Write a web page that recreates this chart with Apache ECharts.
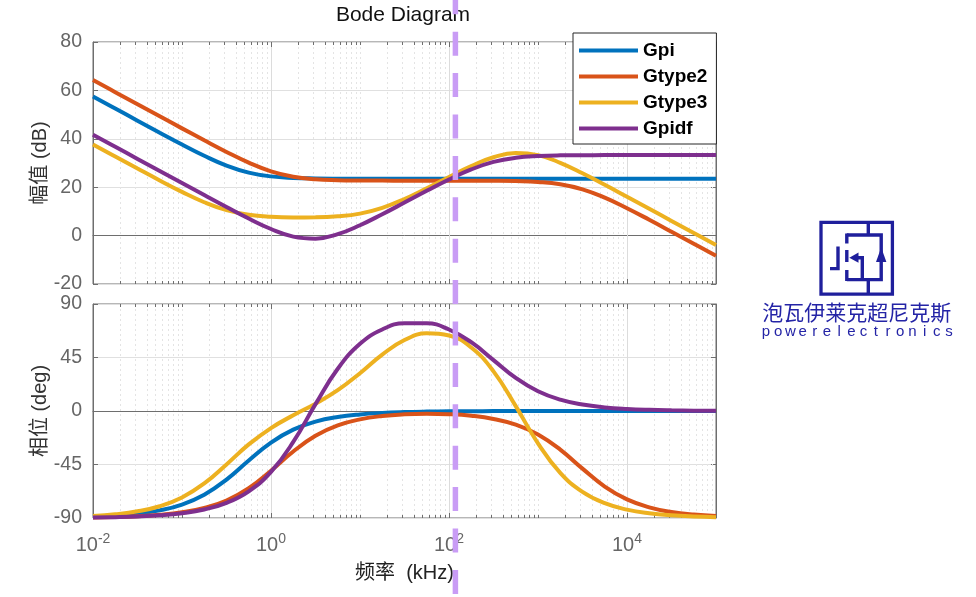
<!DOCTYPE html>
<html><head><meta charset="utf-8">
<script src="https://cdn.jsdelivr.net/npm/echarts@6/dist/echarts.min.js"></script>
<style>html,body{margin:0;padding:0;background:#fff}#c{width:976px;height:597px}</style>
</head><body><div id="c"></div>
<script>
// ---- data ----
const freqKHz = [0.01, 0.01778, 0.03162, 0.05623, 0.1, 0.1778, 0.3162, 0.5623, 1, 1.778, 3.162, 5.623, 10, 17.78, 31.62, 56.23, 100, 177.8, 316.2, 562.3, 1000, 1778, 3162, 5623, 10000, 17783, 31623, 56234, 100000];
const seriesNames = ['Gpi', 'Gtype2', 'Gtype3', 'Gpidf'];
const magGpi    = [57.48, 52.49, 47.50, 42.53, 37.65, 33.00, 28.94, 26.03, 24.47, 23.83, 23.61, 23.53, 23.51, 23.50, 23.50, 23.50, 23.50, 23.50, 23.50, 23.50, 23.50, 23.50, 23.50, 23.50, 23.50, 23.50, 23.50, 23.50, 23.50];
const magGtype2 = [64.28, 59.28, 54.29, 49.29, 44.31, 39.38, 34.58, 30.15, 26.57, 24.33, 23.28, 22.89, 22.76, 22.72, 22.70, 22.70, 22.69, 22.68, 22.65, 22.53, 22.18, 21.23, 19.13, 15.68, 11.32, 6.54, 1.61, -3.37, -8.36];
const magGtype3 = [37.67, 32.68, 27.71, 22.79, 18.05, 13.78, 10.50, 8.59, 7.77, 7.52, 7.56, 7.96, 9.09, 11.47, 15.13, 19.57, 24.24, 28.72, 32.38, 34.17, 33.25, 30.08, 25.75, 20.97, 16.04, 11.07, 6.07, 1.07, -3.92];
const magGpidf  = [41.70, 36.70, 31.70, 26.70, 21.71, 16.73, 11.81, 7.04, 2.72, -0.41, -1.26, 0.59, 4.29, 8.83, 13.65, 18.50, 23.19, 27.35, 30.44, 32.17, 32.90, 33.16, 33.21, 33.27, 33.28, 33.29, 33.29, 33.29, 33.29];
const phaseGpi    = [-88.85, -87.96, -86.38, -83.58, -78.69, -70.43, -57.69, -41.64, -26.57, -15.71, -8.99, -5.08, -2.86, -1.61, -0.91, -0.51, -0.29, -0.16, -0.09, -0.05, -0.03, -0.02, -0.01, 0, 0, 0, 0, 0, 0];
const phaseGtype2 = [-89.52, -89.15, -88.49, -87.32, -85.24, -81.57, -75.24, -64.89, -50.19, -34.04, -20.84, -12.16, -7.04, -4.22, -2.82, -2.37, -2.74, -4.02, -6.66, -11.48, -19.72, -32.46, -48.50, -63.54, -74.36, -81.05, -84.94, -87.15, -88.40];
const phaseGtype3 = [-88.22, -86.85, -84.40, -80.10, -72.73, -60.95, -44.93, -28.10, -14.35, -3.60, 6.19, 17.48, 31.80, 47.44, 59.68, 65.31, 63.51, 53.39, 33.36, 4.12, -27.22, -52.02, -68.06, -77.56, -82.98, -86.04, -87.77, -88.75, -89.30];
const phaseGpidf  = [-89.60, -89.28, -88.72, -87.72, -85.95, -82.81, -77.25, -67.52, -51.27, -26.05, 5.75, 35.51, 56.52, 68.57, 73.83, 73.76, 68.55, 57.85, 42.84, 27.81, 16.59, 9.52, 5.39, 3.03, 1.71, 0.96, 0.54, 0.30, 0.17];
const xTickExponents = [-2, 0, 2, 4];
const magTicks = [-20, 0, 20, 40, 60, 80];
const phaseTicks = [-90, -45, 0, 45, 90];
const markerFreqKHz = 118;
const titleText = 'Bode Diagram';
const magLabel = '幅值 (dB)';
const phaseLabel = '相位 (deg)';
const freqLabel = '频率  (kHz)';
const logoCN = '泡瓦伊莱克超尼克斯';
const logoEN = 'powerelectronics';

// ---- styling ----
const FONT = "'Liberation Sans', Arial, 'Noto Sans CJK SC', sans-serif";
const colors = ['#0072BD', '#D95319', '#EDB120', '#7E2F8E'];
const axisGray = '#6e6e6e';
const tickGray = '#666';

const chart = echarts.init(document.getElementById('c'), null, {renderer: 'canvas'});
const pairs = vals => freqKHz.map((f, i) => [f, vals[i]]);

// log-axis grid lines (major at labelled decades, minor dotted elsewhere)
const gridFreqs = [];
for (let n = -2; n <= 4; n++) {
  for (let k = 1; k <= 9; k++) {
    const f = k * Math.pow(10, n);
    if (f <= 0.01) continue;
    gridFreqs.push([f, (k === 1 && xTickExponents.includes(n)) ? 1 : 0]);
  }
}
function gridRenderer(yMin, yMax) {
  return function (params, api) {
    const f = api.value(0);
    const major = api.value(1) === 1;
    const top = api.coord([f, yMax]);
    const bot = api.coord([f, yMin]);
    const x = Math.round(top[0]) + 0.5;
    const tl = major ? 5 : 3;
    const gl = {type: 'line', shape: {x1: x, y1: top[1], x2: x, y2: bot[1]},
      style: major ? {stroke: '#dcdcdc', lineWidth: 1} : {stroke: '#e4e4e4', lineWidth: 1, lineDash: [2, 3]}};
    return {type: 'group', children: [
      gl,
      {type: 'line', shape: {x1: x, y1: top[1], x2: x, y2: top[1] + tl}, style: {stroke: axisGray, lineWidth: 1}},
      {type: 'line', shape: {x1: x, y1: bot[1], x2: x, y2: bot[1] - tl}, style: {stroke: axisGray, lineWidth: 1}}
    ]};
  };
}

const magSets = [magGpi, magGtype2, magGtype3, magGpidf];
const phaseSets = [phaseGpi, phaseGtype2, phaseGtype3, phaseGpidf];
const lineSeries = [];
magSets.forEach((v, i) => lineSeries.push({type: 'line', name: seriesNames[i], xAxisIndex: 0, yAxisIndex: 0,
  data: pairs(v), symbol: 'none', showSymbol: false, smooth: 0.45, lineStyle: {width: 4, color: colors[i]}, itemStyle: {color: colors[i]}, z: 3}));
phaseSets.forEach((v, i) => lineSeries.push({type: 'line', name: seriesNames[i], xAxisIndex: 1, yAxisIndex: 2,
  data: pairs(v), symbol: 'none', showSymbol: false, smooth: 0.45, lineStyle: {width: 4, color: colors[i]}, itemStyle: {color: colors[i]}, z: 3}));

const yBase = (gi, ticks, name) => ({
  type: 'value', gridIndex: gi, min: ticks[0], max: ticks[ticks.length - 1], interval: ticks[1] - ticks[0],
  axisLine: {show: true, lineStyle: {color: axisGray, width: 1}},
  axisTick: {show: true, inside: true, length: 5, lineStyle: {color: axisGray}},
  axisLabel: {margin: 11, fontSize: 19.5, color: tickGray, fontFamily: FONT},
  splitLine: {show: true, lineStyle: {color: '#e0e0e0', width: 1}},
  name: name, nameLocation: 'middle', nameGap: 43, nameMoveOverlap: false,
  nameTextStyle: {fontSize: 20, color: '#333', fontFamily: FONT}
});
const yRight = (gi, ticks) => ({
  type: 'value', gridIndex: gi, position: 'right', min: ticks[0], max: ticks[ticks.length - 1], interval: ticks[1] - ticks[0],
  axisLine: {show: true, lineStyle: {color: axisGray, width: 1}},
  axisTick: {show: true, inside: true, length: 5, lineStyle: {color: axisGray}},
  axisLabel: {show: false}, splitLine: {show: false}
});

const option = {
  animation: false,
  backgroundColor: '#fff',
  grid: [
    {left: 93, top: 42, width: 623, height: 242, show: true, borderColor: axisGray, borderWidth: 1, backgroundColor: 'transparent', containLabel: false, outerBoundsMode: 'none'},
    {left: 93, top: 304, width: 623, height: 214, show: true, borderColor: axisGray, borderWidth: 1, backgroundColor: 'transparent', containLabel: false, outerBoundsMode: 'none'}
  ],
  legend: {
    data: seriesNames.map((n, i) => ({name: n, icon: 'rect', itemStyle: {color: colors[i]}})),
    orient: 'vertical', left: 573, top: 33,
    itemWidth: 59, itemHeight: 4, itemGap: 7, padding: [8, 9, 6, 6],
    backgroundColor: '#fff', borderColor: '#262626', borderWidth: 1, borderRadius: 0,
    textStyle: {fontSize: 19, fontWeight: 'bold', color: '#000', fontFamily: FONT},
    selectedMode: false
  },
  xAxis: [
    {type: 'log', logBase: 10, gridIndex: 0, min: 0.01, max: 100000,
      axisLine: {show: true, lineStyle: {color: axisGray}}, axisTick: {show: false}, axisLabel: {show: false}, splitLine: {show: false}},
    {type: 'log', logBase: 10, gridIndex: 1, min: 0.01, max: 100000,
      axisLine: {show: true, lineStyle: {color: axisGray}}, axisTick: {show: false}, splitLine: {show: false},
      axisLabel: {margin: 14, showMinLabel: true, showMaxLabel: true,
        formatter: v => { const e = Math.round(Math.log10(v)); return xTickExponents.includes(e) ? '{b|10}{s|' + e + '}' : ''; },
        rich: {b: {fontSize: 20, lineHeight: 26, color: tickGray, fontFamily: FONT},
               s: {fontSize: 14, lineHeight: 14, verticalAlign: 'top', color: tickGray, fontFamily: FONT}}},
      name: freqLabel, nameLocation: 'middle', nameGap: 45, nameMoveOverlap: false,
      nameTextStyle: {fontSize: 20, color: '#222', fontFamily: FONT}}
  ],
  yAxis: [yBase(0, magTicks, magLabel), yRight(0, magTicks), yBase(1, phaseTicks, phaseLabel), yRight(1, phaseTicks)],
  series: [
    {type: 'custom', name: 'grid0', xAxisIndex: 0, yAxisIndex: 0, data: gridFreqs, silent: true, z: 1,
      encode: {x: 0, y: 1}, renderItem: gridRenderer(magTicks[0], magTicks[magTicks.length - 1])},
    {type: 'custom', name: 'grid1', xAxisIndex: 1, yAxisIndex: 2, data: gridFreqs, silent: true, z: 1,
      encode: {x: 0, y: 1}, renderItem: gridRenderer(phaseTicks[0], phaseTicks[phaseTicks.length - 1])}
  ].concat(lineSeries)
};
chart.setOption(option);

// ---- overlay graphics: title, marker line, logo ----
const px = chart.convertToPixel({xAxisIndex: 0}, markerFreqKHz);
const logoColor = '#1f1f9c';
const ls = {stroke: logoColor, lineWidth: 3.4, fill: 'none'};
const graphics = [
  {type: 'text', z: 50, style: {text: titleText, x: 403, y: 15, align: 'center', verticalAlign: 'middle', font: "21px 'Liberation Sans', Arial, sans-serif", fill: '#111'}},
  {type: 'line', z: 100, silent: true, shape: {x1: px, y1: -9.7, x2: px, y2: 600}, style: {stroke: '#c99cf5', lineWidth: 5.5, lineDash: [24, 17.4]}},
  {type: 'rect', shape: {x: 821, y: 222.4, width: 71.4, height: 71.8}, style: {fill: 'none', stroke: logoColor, lineWidth: 3.3}},
  {type: 'polyline', shape: {points: [[846.8, 235], [881.2, 235], [881.2, 279.6], [846.8, 279.6]]}, style: ls},
  {type: 'line', shape: {x1: 868.3, y1: 223, x2: 868.3, y2: 235}, style: ls},
  {type: 'line', shape: {x1: 868.3, y1: 279.6, x2: 868.3, y2: 294}, style: ls},
  {type: 'line', shape: {x1: 846.8, y1: 233.5, x2: 846.8, y2: 243.5}, style: ls},
  {type: 'line', shape: {x1: 846.8, y1: 250, x2: 846.8, y2: 262}, style: ls},
  {type: 'line', shape: {x1: 846.8, y1: 270, x2: 846.8, y2: 281}, style: ls},
  {type: 'polyline', shape: {points: [[856, 257.7], [862.3, 257.7], [862.3, 279.6]]}, style: ls},
  {type: 'polygon', shape: {points: [[849.3, 257.7], [858.5, 252.6], [858.5, 262.8]]}, style: {fill: logoColor}},
  {type: 'polygon', shape: {points: [[881.2, 247.5], [876, 262], [886.4, 262]]}, style: {fill: logoColor}},
  {type: 'polyline', shape: {points: [[830, 268.6], [838, 268.6], [838, 246.5]]}, style: ls},
  {type: 'text', style: {text: logoCN, x: 856.7, y: 312.5, align: 'center', verticalAlign: 'middle', font: "21px 'Noto Sans CJK SC', sans-serif", fill: '#2424a6'}}
];
const letters = logoEN.split('');
const step = (949 - 766) / (letters.length - 1);
letters.forEach((ch, i) => graphics.push({type: 'text', style: {text: ch, x: 766 + i * step, y: 332, align: 'center', verticalAlign: 'middle', font: "15px 'Liberation Sans', Arial, sans-serif", fill: '#2424a6'}}));
chart.setOption({graphic: graphics});
</script>
</body></html>
